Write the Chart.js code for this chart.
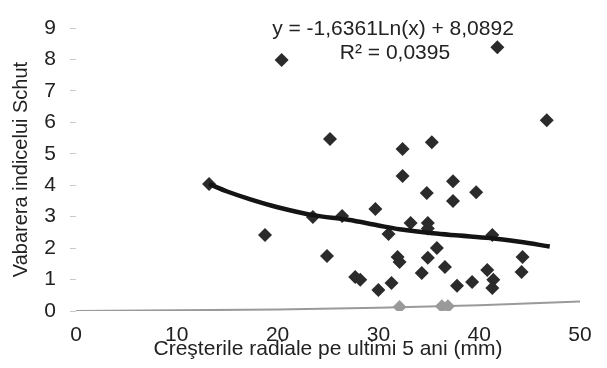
<!DOCTYPE html>
<html>
<head>
<meta charset="utf-8">
<script src="https://cdn.jsdelivr.net/npm/chart.js@4"></script>
<style>
  html, body { margin: 0; padding: 0; background: #fff; }
  #c { display: block; }
</style>
</head>
<body>
<canvas id="c" width="607" height="368"></canvas>
<script>
// ---- data ----
const pointX = [13.2, 20.4, 18.75, 25.2, 23.5, 26.4, 29.7, 31.0, 24.9, 27.7, 28.2, 30.0, 31.3, 32.4, 35.3, 32.4, 37.4, 34.8, 37.4, 46.7, 39.7, 41.8, 33.2, 34.9, 34.9, 41.3, 35.8, 31.9, 32.1, 34.9, 36.6, 34.3, 44.3, 44.2, 40.8, 41.4, 41.3, 39.3, 37.8];
const pointY = [4.04, 7.98, 2.42, 5.47, 2.99, 3.02, 3.24, 2.45, 1.75, 1.08, 0.99, 0.67, 0.89, 5.15, 5.37, 4.29, 4.13, 3.75, 3.5, 6.07, 3.78, 8.39, 2.8, 2.8, 2.62, 2.42, 2.0, 1.72, 1.56, 1.69, 1.4, 1.21, 1.72, 1.24, 1.3, 0.99, 0.73, 0.92, 0.8];

const trendX = [13.2, 15, 17.3, 20, 23.5, 27, 30, 32.1, 35.4, 38, 41.1, 44, 47];
const trendY = [4.04, 3.8, 3.55, 3.3, 3.05, 2.9, 2.72, 2.6, 2.47, 2.4, 2.32, 2.2, 2.05];

const baseX = [0, 10, 20, 30, 40, 50];
const baseY = [0, 0.02, 0.05, 0.1, 0.18, 0.3];

const zeroX = [32.1, 36.3, 36.9];
const zeroY = [0.13, 0.15, 0.15];

const xTicks = [0, 10, 20, 30, 40, 50];
const yTicks = [0, 1, 2, 3, 4, 5, 6, 7, 8, 9];

const equationText = "y = -1,6361Ln(x) + 8,0892";
const r2Text = "R\u00B2 = 0,0395";
const xTitle = "Creşterile radiale pe ultimi 5 ani (mm)";
const yTitle = "Vabarera indicelui Schut";

// ---- build ----
const zip = (xs, ys) => xs.map((x, i) => ({ x: x, y: ys[i] }));
const FONT = '"Liberation Sans", Arial, sans-serif';

const eqPlugin = {
  id: 'eq',
  afterDraw(chart) {
    const ctx = chart.ctx;
    ctx.save();
    ctx.fillStyle = '#222';
    ctx.font = '21px ' + FONT;
    ctx.textAlign = 'center';
    ctx.textBaseline = 'alphabetic';
    ctx.fillText(equationText, 393, 35);
    ctx.fillText(r2Text, 395, 59);
    ctx.restore();
  }
};

new Chart(document.getElementById('c'), {
  type: 'scatter',
  data: {
    datasets: [
      {
        label: 'trend',
        data: zip(trendX, trendY),
        showLine: true,
        borderColor: '#141414',
        borderWidth: 4.5,
        pointRadius: 0,
        tension: 0.35,
        fill: false,
        order: 0
      },
      {
        label: 'Schut',
        data: zip(pointX, pointY),
        pointStyle: 'rectRot',
        pointRadius: 7,
        backgroundColor: '#2b2b2b',
        borderColor: '#2b2b2b',
        borderWidth: 0,
        order: 1
      },
      {
        label: 'zero',
        data: zip(zeroX, zeroY),
        pointStyle: 'rectRot',
        pointRadius: 7,
        backgroundColor: '#9a9a9a',
        borderColor: '#9a9a9a',
        borderWidth: 0,
        order: 2
      },
      {
        label: 'base',
        data: zip(baseX, baseY),
        showLine: true,
        borderColor: '#9a9a9a',
        borderWidth: 2,
        pointRadius: 0,
        fill: false,
        order: 3
      }
    ]
  },
  options: {
    responsive: false,
    animation: false,
    devicePixelRatio: 1,
    layout: { padding: { left: 0, right: 27, top: 28, bottom: 0 } },
    plugins: { legend: { display: false }, tooltip: { enabled: false } },
    scales: {
      x: {
        type: 'linear',
        min: 0,
        max: 50,
        afterBuildTicks: (s) => { s.ticks = xTicks.map(v => ({ value: v })); },
        grid: { display: false },
        border: { display: false },
        ticks: { color: '#222', font: { family: FONT, size: 21 }, padding: 4, maxRotation: 0 },
        title: {
          display: true,
          text: xTitle,
          color: '#222',
          font: { family: FONT, size: 21 },
          padding: { top: 0, bottom: 6 }
        },
        afterFit: (s) => { s.height = 57; }
      },
      y: {
        type: 'linear',
        min: 0,
        max: 9,
        afterBuildTicks: (s) => { s.ticks = yTicks.map(v => ({ value: v })); },
        grid: { drawOnChartArea: false, drawTicks: true, tickLength: 6, color: '#c8c8c8' },
        border: { display: false },
        ticks: { color: '#222', font: { family: FONT, size: 21 }, padding: 14 },
        title: {
          display: true,
          text: yTitle,
          color: '#222',
          font: { family: FONT, size: 20 },
          padding: { top: 9, bottom: 0 }
        },
        afterFit: (s) => { s.width = 76; }
      }
    }
  },
  plugins: [eqPlugin]
});
</script>
</body>
</html>
